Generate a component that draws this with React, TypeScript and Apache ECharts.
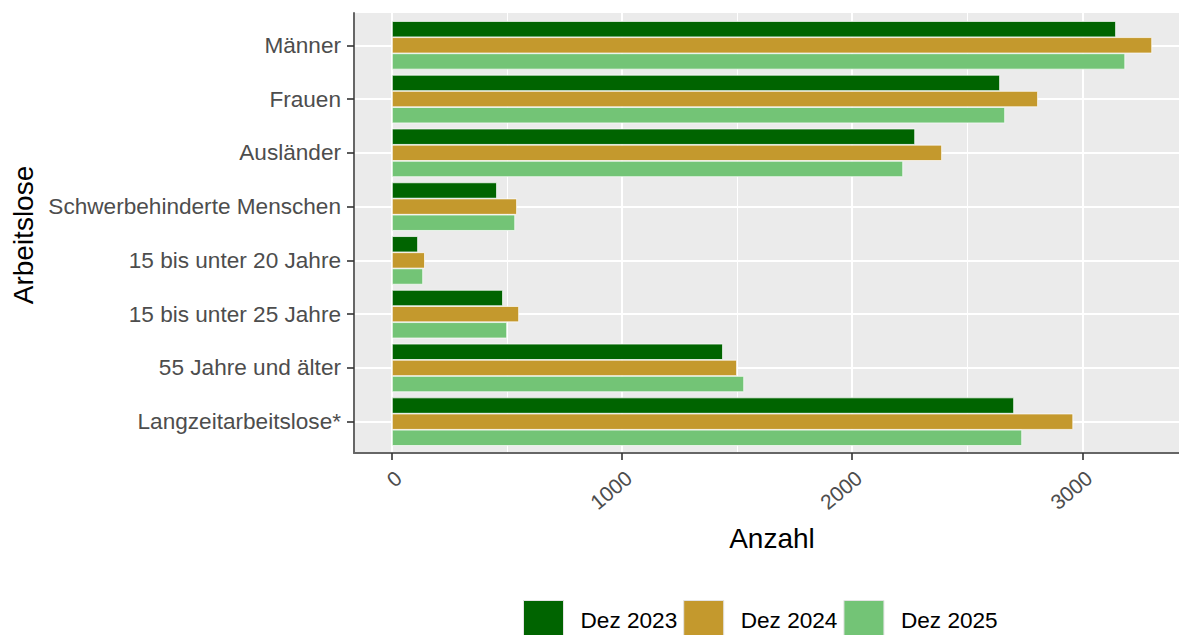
import React, { useEffect, useRef } from "react";
import * as echarts from "echarts";

const categories = [
  "Männer",
  "Frauen",
  "Ausländer",
  "Schwerbehinderte Menschen",
  "15 bis unter 20 Jahre",
  "15 bis unter 25 Jahre",
  "55 Jahre und älter",
  "Langzeitarbeitslose*",
];
const seriesNames = ["Dez 2023", "Dez 2024", "Dez 2025"];
const dez2023 = [3146, 2642, 2273, 456, 113, 482, 1438, 2703];
const dez2024 = [3303, 2807, 2390, 543, 143, 552, 1499, 2960];
const dez2025 = [3186, 2664, 2221, 535, 135, 500, 1530, 2738];
const xTickValues = [0, 1000, 2000, 3000];
const xMin = -165;
const xMax = 3420;

const colors = ["#006400", "#C4992D", "#73C476"];
const FONT = "'Liberation Sans', Arial, sans-serif";

export default function App() {
  const ref = useRef<HTMLDivElement>(null);
  useEffect(() => {
    document.body.style.margin = "0";
    const chart = echarts.init(ref.current!, null, { renderer: "svg" });
    const values = [dez2023, dez2024, dez2025];
    chart.setOption({
      animation: false,
      textStyle: { fontFamily: FONT },
      grid: [
        { left: 354, right: 0, top: 13, bottom: 182, show: true, backgroundColor: "#EBEBEB", borderWidth: 0, containLabel: false },
        { left: 354, right: 0, top: 45.3, bottom: 213.3, containLabel: false },
      ],
      xAxis: [
        {
          type: "value",
          gridIndex: 0,
          min: xMin,
          max: xMax,
          splitNumber: 4,
          axisLine: { show: true, onZero: false, lineStyle: { color: "#666666", width: 2 } },
          axisTick: { show: true, length: 7, customValues: xTickValues, lineStyle: { color: "#333333", width: 1.6 } },
          axisLabel: {
            show: true,
            customValues: xTickValues,
            formatter: (v: number) => String(v),
            rotate: 40,
            align: "right",
            verticalAlign: "top",
            margin: 14,
            fontSize: 21,
            color: "#4D4D4D",
            fontFamily: FONT,
          },
          splitLine: { show: true, lineStyle: { color: "#FFFFFF", width: 2 } },
          minorTick: { show: false, splitNumber: 2 },
          minorSplitLine: { show: true, lineStyle: { color: "#FFFFFF", width: 1 } },
        },
        {
          type: "value",
          gridIndex: 1,
          min: xMin,
          max: xMax,
          show: false,
          splitLine: { show: false },
        },
      ],
      yAxis: [
        {
          type: "value",
          gridIndex: 0,
          min: 0,
          max: 1,
          axisLine: { show: true, onZero: false, lineStyle: { color: "#666666", width: 2 } },
          axisTick: { show: false },
          axisLabel: { show: false },
          splitLine: { show: false },
        },
        {
          type: "category",
          gridIndex: 1,
          data: categories,
          inverse: true,
          boundaryGap: false,
          axisLine: { show: false, onZero: false },
          axisTick: { show: true, length: 7, lineStyle: { color: "#333333", width: 1.6 } },
          axisLabel: { margin: 13, fontSize: 22.6, color: "#4D4D4D", fontFamily: FONT },
          splitLine: { show: true, lineStyle: { color: "#FFFFFF", width: 2 } },
        },
      ],
      legend: {
        left: 518,
        top: 595,
        orient: "horizontal",
        itemWidth: 40,
        itemHeight: 40,
        itemGap: 6,
        icon: "rect",
        itemStyle: { borderColor: "#E3E3E3", borderWidth: 1 },
        textStyle: { fontSize: 22.6, color: "#000000", fontFamily: FONT, padding: [0, 0, 0, 12] },
        data: seriesNames,
      },
      graphic: [
        {
          type: "text",
          x: 772,
          y: 538,
          style: { text: "Anzahl", fontSize: 28, fill: "#000000", fontFamily: FONT, align: "center", verticalAlign: "middle" },
        },
        {
          type: "text",
          x: 23,
          y: 235,
          rotation: Math.PI / 2,
          style: { text: "Arbeitslose", fontSize: 28, fill: "#000000", fontFamily: FONT, align: "center", verticalAlign: "middle" },
        },
      ],
      series: seriesNames.map((name, i) => ({
        name,
        type: "bar",
        xAxisIndex: 1,
        yAxisIndex: 1,
        data: values[i],
        clip: false,
        barGap: "0%",
        barCategoryGap: "10%",
        itemStyle: { color: colors[i], borderColor: "#FFFFFF", borderWidth: 0.7 },
      })),
    });
    return () => chart.dispose();
  }, []);
  return <div ref={ref} style={{ width: 1179, height: 635 }} />;
}
